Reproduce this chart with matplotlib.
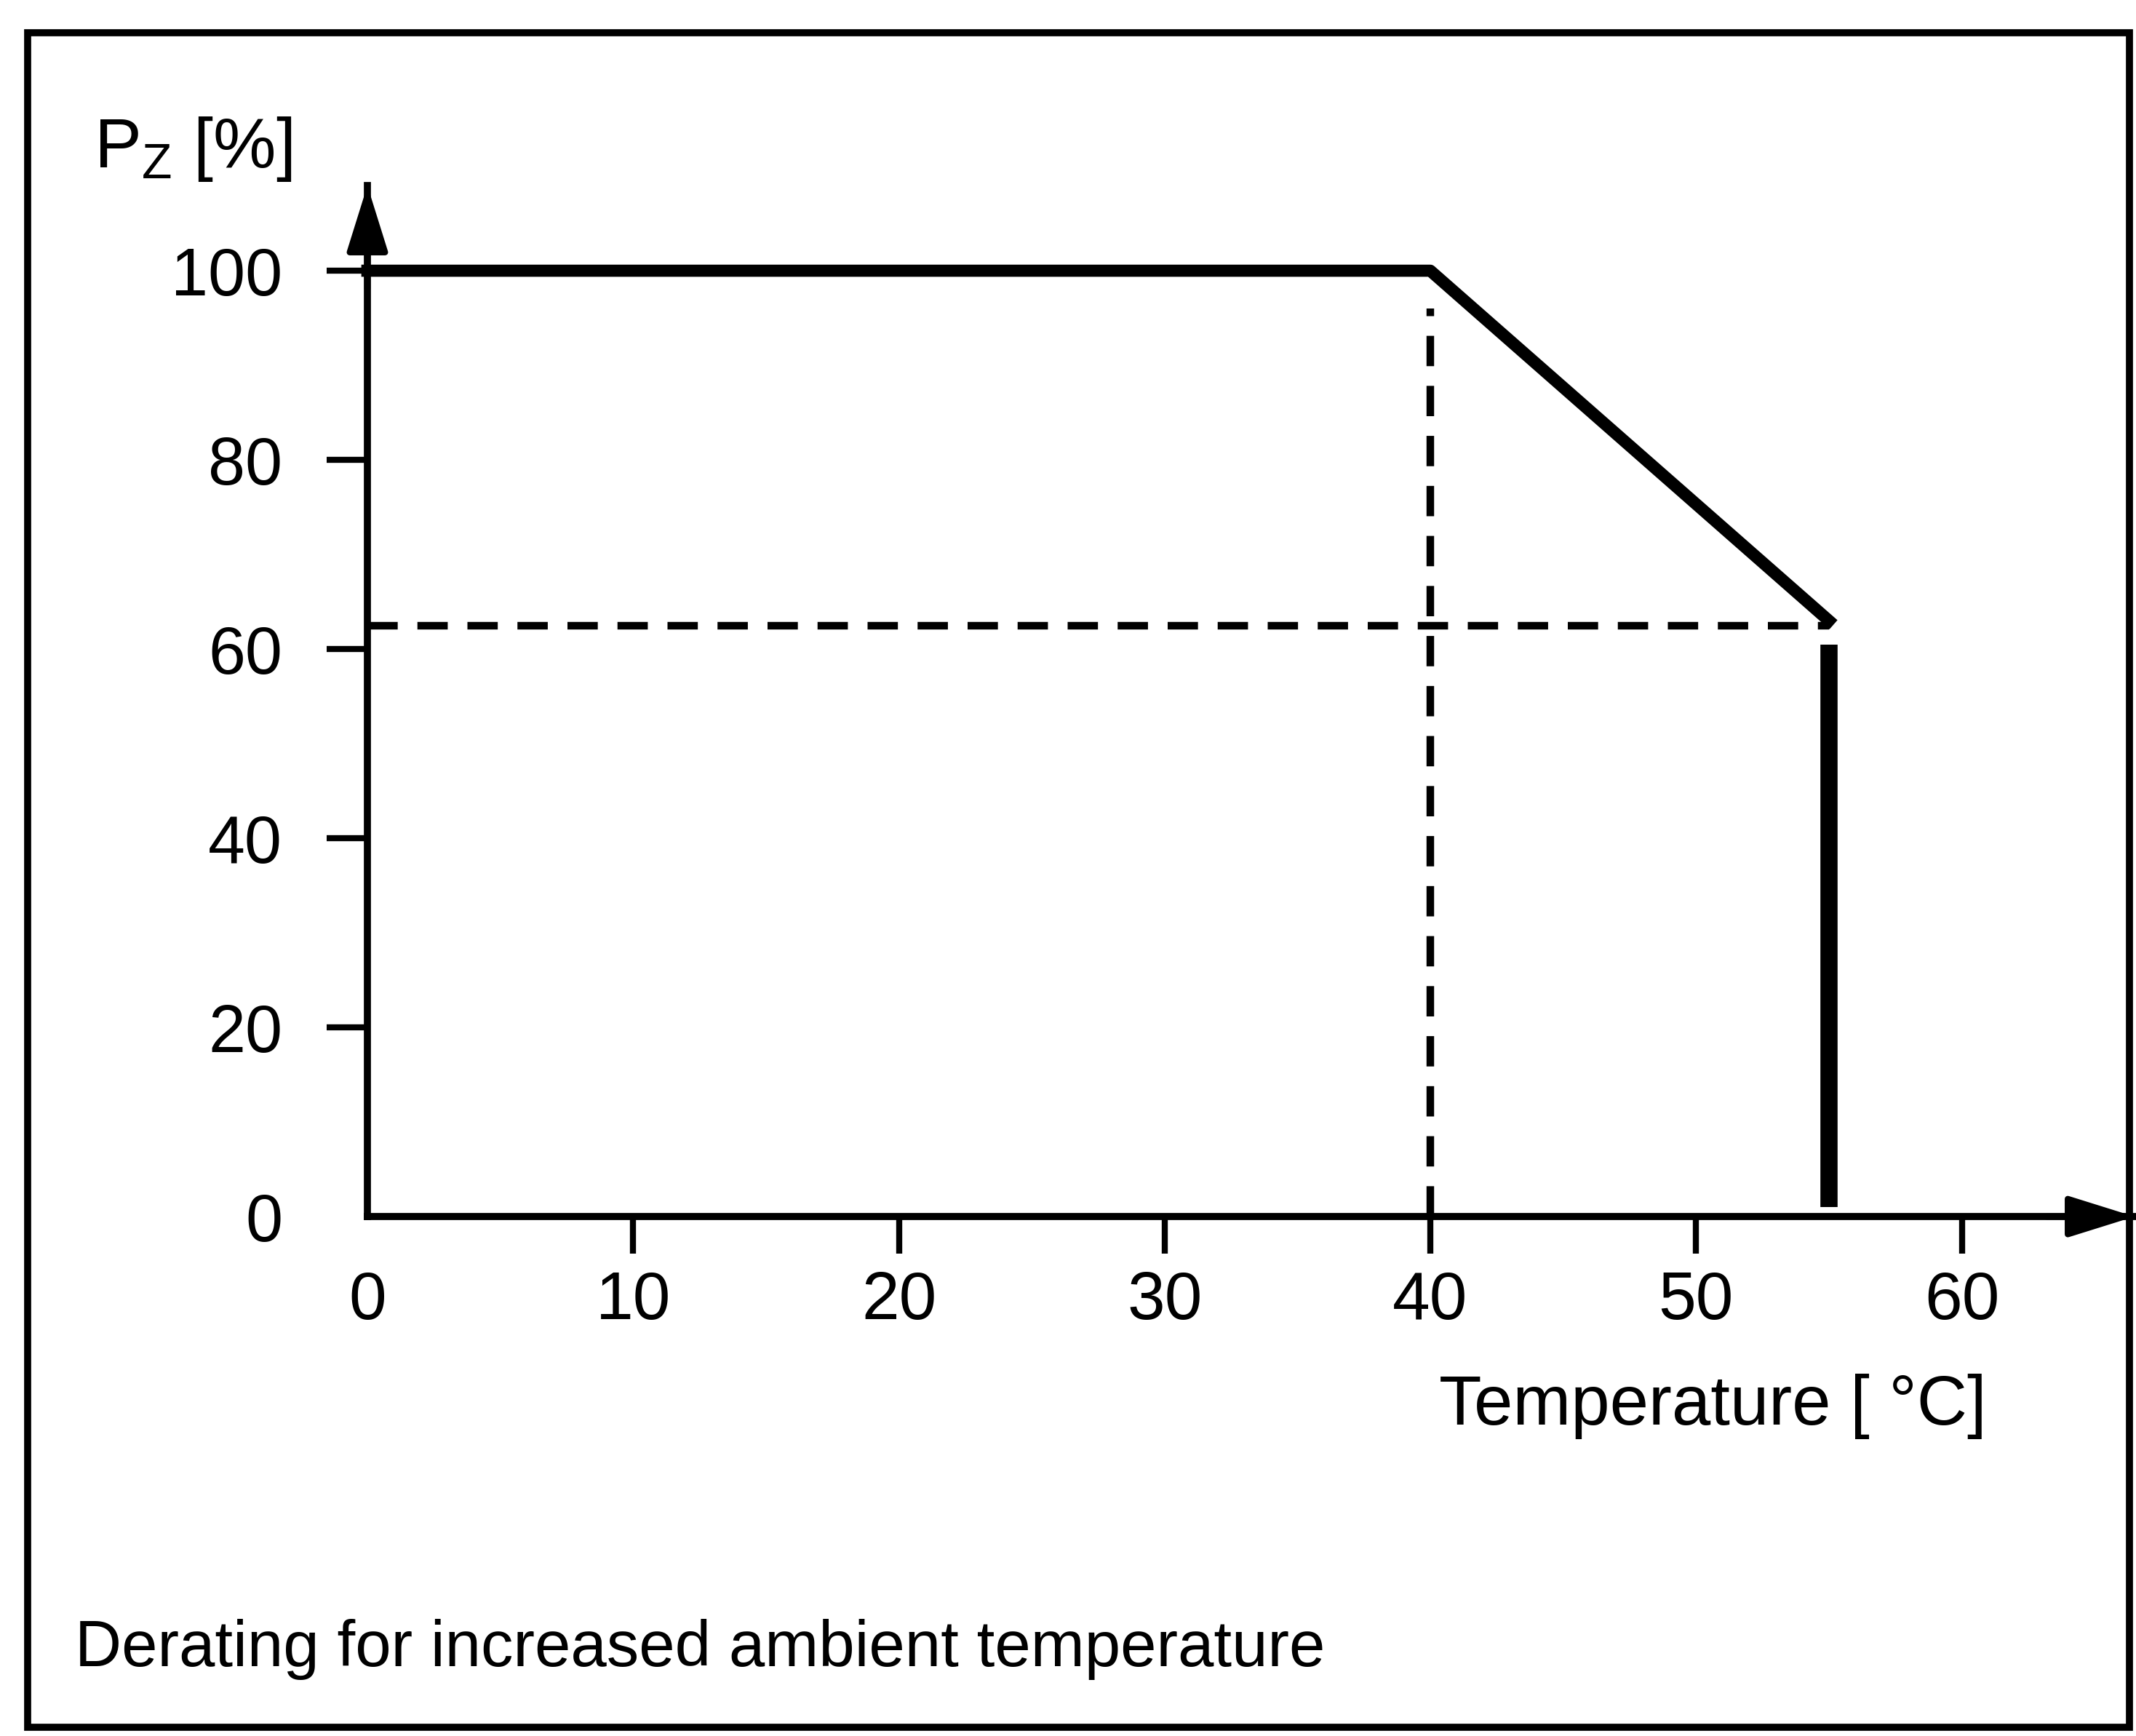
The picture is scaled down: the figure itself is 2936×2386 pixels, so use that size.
import matplotlib.pyplot as plt
from matplotlib.patches import Rectangle

# derating curve
temp = [0, 40, 55]        # ambient temperature [°C]
power = [100, 100, 63]    # permitted power P_Z [%]

# guide lines and end stop
knee_temp = 40
knee_guide_top = 96
limit_power = 62.5
cutoff_temp = 55
cutoff_range = [1, 60.5]

xticks = [0, 10, 20, 30, 40, 50, 60]
yticks = [0, 20, 40, 60, 80, 100]

plt.rcParams['font.family'] = ['Liberation Sans', 'DejaVu Sans']
plt.rcParams['mathtext.fontset'] = 'custom'
plt.rcParams['mathtext.rm'] = 'Liberation Sans'

fig = plt.figure(figsize=(29.36, 23.86), dpi=100)
ax = fig.add_axes([0.172, 0.2992, 0.8273, 0.5939])
ax.set_xlim(0, 66.5)
ax.set_ylim(0, 109)

# axes: only left and bottom, with arrow heads
for side in ['top', 'right']:
    ax.spines[side].set_visible(False)
for side in ['left', 'bottom']:
    ax.spines[side].set_linewidth(7)

arrow = dict(arrowstyle='-|>,head_length=0.8,head_width=0.25', mutation_scale=70,
             lw=6, color='black', shrinkA=0, shrinkB=0)
ax.annotate('', xy=(0, 1), xytext=(0, 0.9), xycoords='axes fraction',
            arrowprops=arrow, annotation_clip=False)
ax.annotate('', xy=(1, 0), xytext=(0.95, 0), xycoords='axes fraction',
            arrowprops=arrow, annotation_clip=False)

ax.set_xticks(xticks)
ax.set_yticks(yticks)
ax.tick_params(axis='x', direction='out', length=37, width=6, pad=16, labelsize=67)
ax.tick_params(axis='y', direction='out', length=40, width=6, pad=44, labelsize=66)
# no tick marks at the origin, only the "0" labels
ax.xaxis.get_major_ticks()[0].tick1line.set_visible(False)
ax.yaxis.get_major_ticks()[0].tick1line.set_visible(False)

# dashed guide lines
ax.plot([0, cutoff_temp], [limit_power, limit_power], color='black', lw=7.5,
        dashes=(4, 2.6), clip_on=False)
ax.plot([knee_temp, knee_temp], [0, knee_guide_top], color='black', lw=7.5,
        dashes=(4, 2.6), clip_on=False)

# derating curve and thick end stop
ax.plot(temp, power, color='black', lw=12, solid_joinstyle='round', clip_on=False)
ax.plot([cutoff_temp, cutoff_temp], cutoff_range, color='black', lw=17,
        solid_capstyle='butt', clip_on=False)

ax.set_ylabel(r'$\mathrm{P_Z}$ [%]', rotation=0, fontsize=70, ha='left', va='baseline')
ax.yaxis.set_label_coords(-0.155, 1.018)
ax.set_xlabel('Temperature [ °C]', fontsize=69, ha='right', va='baseline')
ax.xaxis.set_label_coords(0.9164, -0.2018)

fig.text(103 / 2936, 96 / 2386, 'Derating for increased ambient temperature',
         fontsize=64, ha='left', va='baseline')

# outer frame of the datasheet figure
fig.add_artist(Rectangle((0.013, 0.005), 0.984, 0.976, transform=fig.transFigure,
                         fill=False, lw=7, ec='black'))

fig.savefig('out.png', dpi=100)
